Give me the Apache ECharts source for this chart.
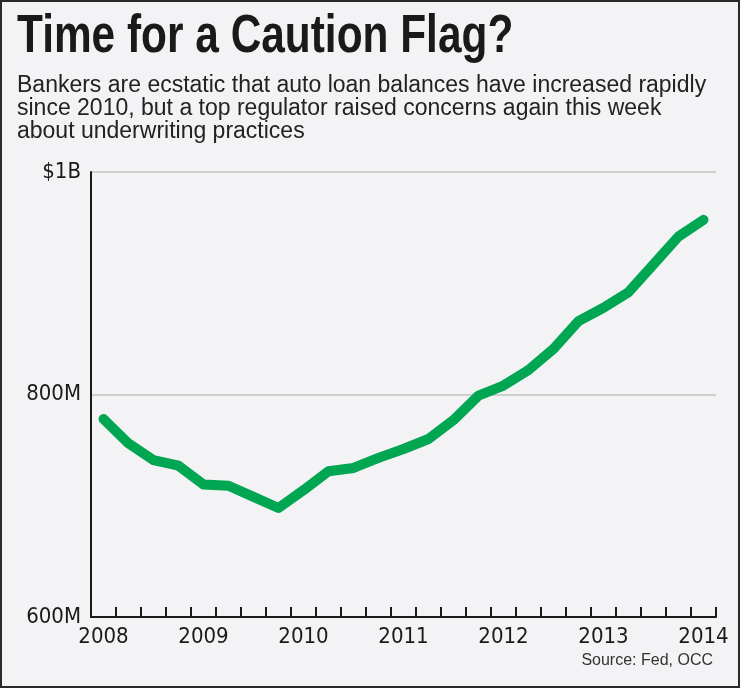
<!DOCTYPE html>
<html>
<head>
<meta charset="utf-8">
<script src="https://cdn.jsdelivr.net/npm/echarts@6/dist/echarts.min.js"></script>
<style>
html,body{margin:0;padding:0;background:#f3f3f5;}
#chart{width:740px;height:688px;}
</style>
</head>
<body>
<div id="chart"></div>
<script>
// Quarterly categories, 2008 Q1 .. 2014 Q1
const categories = [
  '2008','2008Q2','2008Q3','2008Q4',
  '2009','2009Q2','2009Q3','2009Q4',
  '2010','2010Q2','2010Q3','2010Q4',
  '2011','2011Q2','2011Q3','2011Q4',
  '2012','2012Q2','2012Q3','2012Q4',
  '2013','2013Q2','2013Q3','2013Q4',
  '2014'
];
// Auto loan balances (millions of dollars)
const balances = [
  778, 756, 741, 736,
  719, 718, 708, 698,
  714, 731, 734, 743,
  751, 760, 777, 799,
  808, 822, 841, 866,
  878, 892, 917, 942,
  957
];
const yTickLabels = {600: '600M', 800: '800M', 1000: '$1B'};
const titleText = 'Time for a Caution Flag?';
const subtitleText = 'Bankers are ecstatic that auto loan balances have increased rapidly\nsince 2010, but a top regulator raised concerns again this week\nabout underwriting practices';
const sourceText = 'Source: Fed, OCC';

const narrow = "'DejaVu Sans Condensed', 'Liberation Sans Narrow', sans-serif";
const regular = "'Liberation Sans', Arial, Helvetica, sans-serif";

const chart = echarts.init(document.getElementById('chart'));
chart.setOption({
  backgroundColor: '#f3f3f5',
  animation: false,
  title: [{
    text: subtitleText,
    left: 17, top: 74, padding: 0,
    textStyle: {fontFamily: regular, fontWeight: 'normal', fontSize: 23, lineHeight: 23, color: '#222'}
  }, {
    text: sourceText,
    right: 27, top: 653, padding: 0,
    textStyle: {fontFamily: regular, fontWeight: 'normal', fontSize: 16, color: '#333'}
  }],
  graphic: [{
    type: 'rect',
    shape: {x: 1, y: 1, width: 738, height: 686},
    style: {fill: 'none', stroke: '#2a2a2a', lineWidth: 2},
    silent: true
  }, {
    type: 'text',
    x: 17, y: 11,
    scaleX: 0.8,
    style: {
      text: titleText,
      font: "bold 53px 'Liberation Sans', Arial, sans-serif",
      fill: '#1a1a1a',
      verticalAlign: 'top'
    }
  }],
  grid: {left: 91, right: 24, top: 172, bottom: 71, containLabel: false},
  xAxis: {
    type: 'category',
    data: categories,
    boundaryGap: true,
    axisLine: {show: true, lineStyle: {color: '#1a1a1a', width: 2}},
    axisTick: {show: true, inside: true, length: 10, interval: 0, lineStyle: {color: '#1a1a1a', width: 2}},
    axisLabel: {
      interval: 3,
      margin: 9,
      fontFamily: narrow, fontSize: 22, color: '#1a1a1a',
      formatter: v => v.slice(0, 4)
    },
    splitLine: {show: false}
  },
  yAxis: {
    type: 'value',
    min: 600, max: 1000, interval: 200,
    axisLine: {show: true, lineStyle: {color: '#1a1a1a', width: 2}},
    axisTick: {show: false},
    axisLabel: {
      margin: 10,
      padding: [7, 0, 0, 0],
      fontFamily: narrow, fontSize: 22, color: '#1a1a1a',
      formatter: v => yTickLabels[v] || ''
    },
    splitLine: {lineStyle: {color: '#cfcfcf', width: 2}}
  },
  series: [{
    type: 'line',
    data: balances,
    symbol: 'none',
    lineStyle: {color: '#00a651', width: 10, cap: 'round', join: 'round'}
  }]
});
</script>
</body>
</html>
